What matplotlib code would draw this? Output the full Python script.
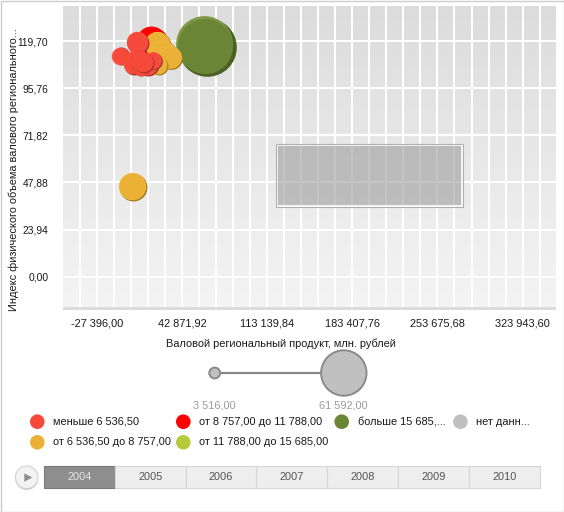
import numpy as np
import matplotlib
matplotlib.use('Agg')
import matplotlib.pyplot as plt
from matplotlib import font_manager
from matplotlib.patches import Rectangle, Circle, Polygon
from matplotlib.colors import LinearSegmentedColormap, to_rgb
from matplotlib.transforms import ScaledTranslation

# ---------------- data ----------------
x_ticks = [-27396.00, 42871.92, 113139.84, 183407.76, 253675.68, 323943.60]
y_ticks = [0.00, 23.94, 47.88, 71.82, 95.76, 119.70]
x_label = 'Валовой региональный продукт, млн. рублей'
y_label = 'Индекс физического объема валового регионального...'

# bubbles: GRP (x), index (y), bubble size value, colour group
bubble_x = [61782, 1504, 18018, 22147, 27101, 32881, 22972,
            -7744, 5631, 5631, 2330, 13889, 18844, 8935, 10586]
bubble_y = [117.41, 46.05, 119.19, 118.18, 113.60, 111.57, 107.50,
            112.18, 119.19, 111.57, 108.02, 108.02, 110.05, 105.99, 109.05]
bubble_size = [102600, 23430, 28720, 20200, 20200, 15810, 9680,
               9680, 14460, 10790, 11950, 14460, 8640, 7650, 11950]
bubble_group = [4, 1, 2, 1, 1, 1, 1, 0, 0, 0, 0, 0, 0, 0, 0]

group_labels = ['меньше 6 536,50', 'от 6 536,50 до 8 757,00',
                'от 8 757,00 до 11 788,00', 'от 11 788,00 до 15 685,00',
                'больше 15 685,...', 'нет данн...']
group_colors = ['#F5493B', '#EBB036', '#FF0000', '#B5CB3D', '#6A8535', '#C0C0C0']

size_legend_values = [3516.00, 61592.00]
years = ['2004', '2005', '2006', '2007', '2008', '2009', '2010']
selected_year = '2004'

# ---------------- fonts ----------------
avail = {f.name for f in font_manager.fontManager.ttflist}
FONT = 'Liberation Sans' if 'Liberation Sans' in avail else 'DejaVu Sans'
NARROW = 'Liberation Sans Narrow' if 'Liberation Sans Narrow' in avail else FONT
plt.rcParams['font.family'] = [FONT, 'DejaVu Sans']
FS = 7.9


def ru(v):
    return f'{v:,.2f}'.replace(',', ' ').replace('.', ',')


W, H = 564, 512
fig = plt.figure(figsize=(W / 100, H / 100), dpi=100)
fig.patch.set_facecolor('white')

L, R, T, B = 63.3, 556, 6, 307
ax = fig.add_axes([L / W, 1 - B / H, (R - L) / W, (B - T) / H])

# background gradient
cmap = LinearSegmentedColormap.from_list('bg', ['#DCDCDC', '#F4F4F4'])
ax.imshow(np.linspace(0, 1, 256).reshape(-1, 1), cmap=cmap, extent=[0, 1, 0, 1],
          transform=ax.transAxes, aspect='auto', zorder=0, origin='upper')

step = x_ticks[1] - x_ticks[0]
ystep = y_ticks[1] - y_ticks[0]
ax.set_xticks(x_ticks)
ax.set_xticklabels([ru(v) for v in x_ticks])
ax.set_xticks(x_ticks[0] + step / 5 * np.arange(-5, 31), minor=True)
ax.set_yticks(y_ticks)
ax.set_yticklabels([ru(v) for v in y_ticks])
ax.set_xlim(x_ticks[0] - 0.396 * step, x_ticks[-1] + 0.3925 * step)
ax.set_ylim(y_ticks[0] - 0.643 * ystep, y_ticks[-1] + 0.743 * ystep)
ax.set_axisbelow(True)
ax.grid(True, which='both', axis='x', color='white', lw=1.5)
ax.grid(True, which='major', axis='y', color='white', lw=1.5)
ax.tick_params(which='both', length=0)
ax.tick_params(axis='x', pad=8.3, labelsize=FS, colors='#1a1a1a')
ax.tick_params(axis='y', pad=10.8, colors='#1a1a1a')
for t in ax.get_yticklabels():
    t.set_fontfamily(NARROW)
    t.set_fontsize(7.4)
for s in ax.spines.values():
    s.set_visible(False)

ax.set_xlabel(x_label, fontsize=FS, va='center', color='#1a1a1a')
ax.xaxis.set_label_coords((280.6 - L) / (R - L), (B - 343.3) / (B - T))
ax.set_ylabel(y_label, fontsize=FS, va='center', color='#1a1a1a')
ax.yaxis.set_label_coords((14 - L) / (R - L), (B - 170) / (B - T))

# bubbles
R_MAX = 22.7  # px radius of the largest size-legend value
def diam_pt(v):
    return 2 * R_MAX * np.sqrt(v / size_legend_values[-1]) * 0.72

for xi, yi, si, gi in zip(bubble_x, bubble_y, bubble_size, bubble_group):
    col = np.array(to_rgb(group_colors[gi]))
    d = diam_pt(si)
    o = d * 0.03 / 72
    dark = ScaledTranslation(o, -o, fig.dpi_scale_trans)
    light = ScaledTranslation(-o * 0.6, o * 0.6, fig.dpi_scale_trans)
    ax.plot([xi], [yi], 'o', ms=d, mfc=col * 0.72, mec='none', zorder=3,
            transform=ax.transData + dark)
    ax.plot([xi], [yi], 'o', ms=d * 0.97, mfc=np.minimum(col * 1.06 + 0.05, 1), mec='none',
            zorder=3, transform=ax.transData + light)
    ax.plot([xi], [yi], 'o', ms=d * 0.94, mfc=col, mec='none', zorder=3)

# grey placeholder box
ax.add_patch(Rectangle((0.4337, 0.3355), 0.3753, 0.2025, transform=ax.transAxes,
                       fc='#9D9D9D', alpha=0.6, ec='none', zorder=4))
ax.add_patch(Rectangle((0.4337, 0.3355), 0.3753, 0.2025, transform=ax.transAxes,
                       fill=False, ec='white', lw=1.2, zorder=4))
ax.add_patch(Rectangle((0.4317, 0.3322), 0.3793, 0.2091, transform=ax.transAxes,
                       fill=False, ec='#B0B0B0', lw=0.8, zorder=4))

# ---------------- overlay in pixel coordinates ----------------
ov = fig.add_axes([0, 0, 1, 1])
ov.set_xlim(0, W)
ov.set_ylim(H, 0)
ov.axis('off')
ov.patch.set_alpha(0)

ov.add_patch(Rectangle((L, B), R - L, 3, fc='#DCDCDC', ec='none'))
ov.add_patch(Rectangle((0.5, 0.5), W - 1, H - 1, fill=False, ec='#CCCCCC', lw=1))

# size legend
sx = [214.7, 343.8]
sy = 373
ov.plot(sx, [sy, sy], color='#878787', lw=1.6, zorder=1)
for v, x in zip(size_legend_values, sx):
    r = R_MAX * np.sqrt(v / size_legend_values[-1])
    ov.add_patch(Circle((x, sy), r, fc='#C0C0C0', ec='#8A8A8A', lw=1.4, zorder=2))
    ov.text(x, 405.5, ru(v), ha='center', va='center', fontsize=FS, color='#9C9C9C')

# colour legend (column-major, 4 columns)
col_x = [37.3, 183.3, 341.7, 460.4]
row_y = [421.7, 442.3]
layout = [(0, 0), (0, 1), (1, 0), (1, 1), (2, 0), (3, 0)]
for (c, r), lab, colr in zip(layout, group_labels, group_colors):
    ov.add_patch(Circle((col_x[c], row_y[r]), 7.3, fc=colr, ec='none'))
    ov.text(col_x[c] + 16, row_y[r], lab, ha='left', va='center', fontsize=FS, color='#1a1a1a')

# timeline
bx0, bx1, by0, by1 = 44, 539.6, 466, 487.7
seg_w = (bx1 - bx0) / len(years)
ov.add_patch(Rectangle((bx0 + 1, by0 + 1.5), bx1 - bx0, by1 - by0, fc='#C8C8C8', ec='none'))
for i, yr in enumerate(years):
    x0 = bx0 + i * seg_w
    sel = yr == selected_year
    ov.add_patch(Rectangle((x0, by0), seg_w, by1 - by0,
                           fc='#8E8E8E' if sel else '#EEEEEE',
                           ec='#7A7A7A' if sel else '#D6D6D6', lw=0.8))
    ov.text(x0 + seg_w / 2, (by0 + by1) / 2 + 0.5, yr, ha='center', va='center', fontsize=FS,
            color='#E6E6E6' if sel else '#555555')

ov.add_patch(Circle((26.7, 478.8), 11.3, fc='#D0D0D0', ec='none'))
ov.add_patch(Circle((26.7, 477.3), 11.3, fc='#F3F3F3', ec='#D2D2D2', lw=0.8))
ov.add_patch(Polygon([(24.3, 473.3), (24.3, 481.7), (32.3, 477.5)], fc='#8F8F8F', ec='none'))

fig.savefig('out.png', dpi=100, facecolor='white')
